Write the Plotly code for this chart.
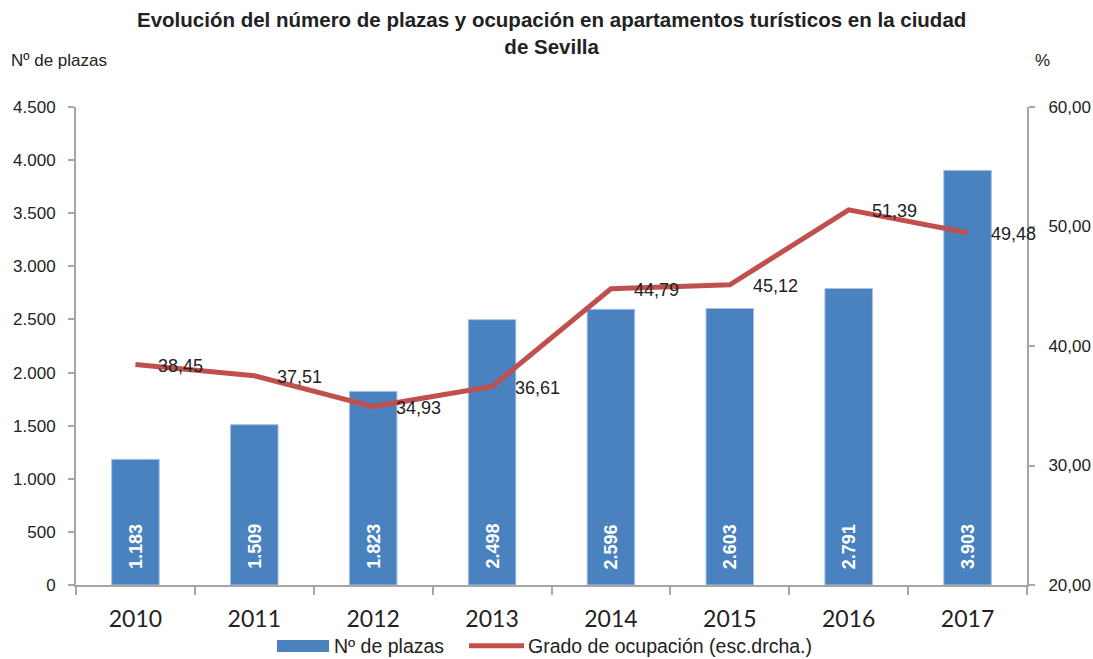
import plotly.graph_objects as go

# Apartamentos turísticos en Sevilla: plazas y grado de ocupación
years = ["2010", "2011", "2012", "2013", "2014", "2015", "2016", "2017"]
plazas = [1183, 1509, 1823, 2498, 2596, 2603, 2791, 3903]
ocupacion = [38.45, 37.51, 34.93, 36.61, 44.79, 45.12, 51.39, 49.48]

left_ticks = [0, 500, 1000, 1500, 2000, 2500, 3000, 3500, 4000, 4500]
right_ticks = [20, 30, 40, 50, 60]

BLUE = "#4A81BF"
RED = "#C0504D"
AXIS = "#A6A6A6"
TXT = "#222222"
FONT = "Liberation Sans, Arial"


def miles(n):
    return f"{n:,}".replace(",", ".")


fig = go.Figure()

fig.add_trace(go.Bar(
    x=years, y=plazas, name="Nº de plazas",
    width=0.4,
    marker=dict(color=BLUE, line=dict(color="#A9C2E2", width=1)),
))

fig.add_trace(go.Scatter(
    x=years, y=ocupacion, yaxis="y2", mode="lines",
    name="Grado de ocupación (esc.drcha.)",
    line=dict(color=RED, width=5),
))

# rotated value labels near the base of each bar
for i, n in enumerate(plazas):
    fig.add_annotation(
        x=i, y=0, xref="x", yref="y", text=f"<b>{miles(n)}</b>", textangle=-90,
        showarrow=False, xanchor="center", yanchor="bottom", yshift=14,
        font=dict(family=FONT, size=18, color="white"),
    )

# value labels to the right of each line point
for i, v in enumerate(ocupacion):
    fig.add_annotation(
        x=i, y=v, xref="x", yref="y2", text=f"{v:.2f}".replace(".", ","),
        showarrow=False, xanchor="left", yanchor="middle", xshift=21, yshift=-1,
        font=dict(family=FONT, size=18, color=TXT),
    )

fig.add_annotation(
    xref="paper", yref="paper", x=0.5, y=1.0, yanchor="bottom", showarrow=False,
    text="<b>Evolución del número de plazas y ocupación en apartamentos turísticos en la ciudad<br>de Sevilla</b>",
    font=dict(family=FONT, size=20.5, color=TXT),
    yshift=47,
)

fig.update_layout(
    width=1093, height=659,
    margin=dict(l=76, r=66, t=107, b=74),
    paper_bgcolor="white", plot_bgcolor="white",
    separators=",.",
    showlegend=False,
    font=dict(family=FONT, size=17, color=TXT),
    xaxis=dict(
        type="category", tickson="boundaries", ticks="outside", ticklen=8,
        tickcolor=AXIS, tickwidth=2, showline=True, linecolor=AXIS, linewidth=2,
        showgrid=False, tickfont=dict(family="Lato, Carlito, sans-serif", size=23, color=TXT),
        ticklabelstandoff=12, range=[-0.5, len(years) - 0.5], automargin=False,
    ),
    yaxis=dict(
        range=[0, 4500], tickvals=left_ticks, tickformat=",.0f",
        ticks="outside", ticklen=6, tickcolor=AXIS, tickwidth=2,
        showline=True, linecolor=AXIS, linewidth=2, showgrid=False, zeroline=False,
        tickfont=dict(size=17, color=TXT), ticklabelstandoff=9, automargin=False,
    ),
    yaxis2=dict(
        range=[20, 60], tickvals=right_ticks, tickformat=".2f",
        overlaying="y", side="right",
        ticks="outside", ticklen=6, tickcolor=AXIS, tickwidth=2,
        showline=True, linecolor=AXIS, linewidth=2, showgrid=False, zeroline=False,
        tickfont=dict(size=17, color=TXT), ticklabelstandoff=10, automargin=False,
    ),
)

fig.add_annotation(xref="paper", yref="paper", x=-0.07, y=1.0, yshift=47,
                   xanchor="left", yanchor="middle", showarrow=False,
                   text="Nº de plazas", font=dict(size=17, color=TXT))
fig.add_annotation(xref="paper", yref="paper", x=1.0, y=1.0, yshift=47, xshift=6,
                   xanchor="left", yanchor="middle", showarrow=False,
                   text="%", font=dict(size=17, color=TXT))

# legend drawn beneath the axis
fig.add_shape(type="rect", xref="paper", yref="paper",
              x0=(277 - 76) / 951, x1=(329 - 76) / 951, y0=-0.115, y1=-0.14,
              fillcolor=BLUE, line=dict(width=0))
fig.add_annotation(xref="paper", yref="paper", x=(332 - 76) / 951, y=-0.128,
                   xanchor="left", yanchor="middle", showarrow=False,
                   text="Nº de plazas", font=dict(size=19.5, color=TXT))
fig.add_shape(type="line", xref="paper", yref="paper",
              x0=(469 - 76) / 951, x1=(524 - 76) / 951, y0=-0.127, y1=-0.127,
              line=dict(color=RED, width=5))
fig.add_annotation(xref="paper", yref="paper", x=(526 - 76) / 951, y=-0.128,
                   xanchor="left", yanchor="middle", showarrow=False,
                   text="Grado de ocupación (esc.drcha.)", font=dict(size=19.5, color=TXT))

fig.write_html("out.html")
